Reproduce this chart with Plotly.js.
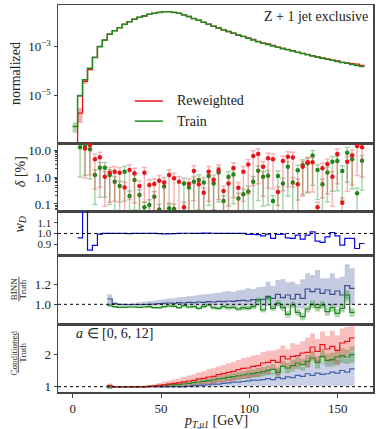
<!DOCTYPE html>
<html><head><meta charset="utf-8">
<script src="https://cdn.plot.ly/plotly-3.0.1.min.js"></script>
<style>html,body{margin:0;padding:0;background:#fff}#chart{width:379px;height:429px}</style>
</head><body><div id="chart"></div>
<script>
// ---------------- data ----------------
const binWidth = 2.8; // GeV, bin k spans [k*w, (k+1)*w]
// top panel, bins 0..58
const histTrain = [5.8e-7, 1.02e-5, 4.5e-5, 1.32e-4, 3.7e-4, 1.0e-3, 1.86e-3, 3.16e-3, 4.4e-3, 5.9e-3,
  8.1e-3, 1.02e-2, 1.29e-2, 1.55e-2, 1.74e-2, 2.04e-2, 2.24e-2, 2.45e-2, 2.63e-2, 2.63e-2,
  2.45e-2, 2.24e-2, 1.95e-2, 1.66e-2, 1.38e-2, 1.17e-2, 9.8e-3, 8.1e-3, 6.8e-3, 5.75e-3,
  4.8e-3, 4.1e-3, 3.47e-3, 2.95e-3, 2.57e-3, 2.19e-3, 1.86e-3, 1.58e-3, 1.38e-3, 1.23e-3,
  1.07e-3, 9.5e-4, 8.3e-4, 7.4e-4, 6.6e-4, 5.9e-4, 5.25e-4, 4.7e-4, 4.2e-4, 3.8e-4,
  3.4e-4, 3.1e-4, 2.8e-4, 2.5e-4, 2.3e-4, 2.1e-4, 1.9e-4, 1.7e-4, 1.55e-4];
const histReweighted = [1e-9, 2.0e-6, 3.9e-5, 1.18e-4, 3.6e-4, 1.03e-3, 1.84e-3, 3.2e-3, 4.45e-3, 5.95e-3,
  8.05e-3, 1.03e-2, 1.3e-2, 1.54e-2, 1.75e-2, 2.03e-2, 2.25e-2, 2.46e-2, 2.62e-2, 2.64e-2,
  2.44e-2, 2.25e-2, 1.96e-2, 1.67e-2, 1.37e-2, 1.18e-2, 9.75e-3, 8.15e-3, 6.78e-3, 5.8e-3,
  4.78e-3, 4.12e-3, 3.5e-3, 2.94e-3, 2.6e-3, 2.25e-3, 1.95e-3, 1.65e-3, 1.4e-3, 1.29e-3,
  1.13e-3, 9.47e-4, 8.6e-4, 7.8e-4, 6.95e-4, 5.87e-4, 5.37e-4, 4.85e-4, 4.35e-4, 3.8e-4,
  3.47e-4, 3.2e-4, 2.83e-4, 2.67e-4, 2.3e-4, 2.18e-4, 2.02e-4, 1.95e-4, 1.74e-4];
const relErrTrain = [0.45, 0.12, 0.06, 0.04, 0.03, 0.025];
const relErrReweighted = [0, 0.6, 0.2, 0.06, 0.04, 0.03];
const relErrDefault = 0.02;

// delta panel, bins 1..58 (percent)
const deltaReweighted = [null, 11.5, 15.3, 4.5, 5.35, 1.03, 1.45, 1.58, 1.45, 0.41,
  1.82, 1.37, 0.46, 1.45, 0.51, 0.55, 0.73, 0.62, 1.19, 0.89,
  0.67, 0.075, 0.55, 1.67, 0.54, 0.26, 1.58, 0.77, 1.82, 0.30,
  0.58, 2.16, 0.40, 1.58, 2.9, 6.0, 7.1, 2.4, 4.9, 4.5,
  0.28, 3.9, 5.6, 5.3, 0.54, 2.4, 3.5, 3.5, 0.075, 2.1,
  3.0, 1.03, 7.1, 0.11, 3.7, 6.3, 14.2, 12.6];
const deltaTrain = [12.6, 14.5, 10.6, 1.19, 2.22, 2.22, 1.19, 0.67, 0.46, 1.58,
  0.198, 0.77, 0.215, 0.075, 0.092, 0.187, 0.063, 0.44, 0.069, 0.065,
  null, 0.58, 0.41, 0.67, 0.77, 0.62, 1.09, 0.58, 1.48, 0.13,
  1.03, 1.25, 0.16, 0.23, 0.29, 0.67, 1.7, 1.03, 1.12, 0.13,
  1.09, 0.58, 2.4, 0.62, 1.77, 2.8, 3.2, 6.2, 1.82, 0.54,
  1.48, 3.7, 3.9, 1.67, 8.0, 4.5, 0.25, 4.0];

// w_D panel, bins 1..58
const wD = [0.96, 1.3, 0.845, 0.89, 0.994, 1.0, 1.0, 1.0, 1.002, 1.0,
  0.998, 1.0, 1.0, 1.002, 1.0, 1.0, 0.998, 0.997, 0.997, 0.998,
  1.0, 1.002, 1.002, 1.0, 1.0, 1.003, 1.004, 1.002, 1.0, 1.0,
  1.0, 1.0, 1.0, 1.0, 0.991, 0.991, 0.99, 0.978, 0.994, 0.954,
  0.991, 0.994, 0.960, 0.954, 0.985, 0.947, 0.985, 1.015, 0.929, 0.917,
  0.969, 1.009, 0.978, 0.892, 0.954, 0.954, 0.861, 0.907];

// BINN / Truth panel, bins 7..56
const binnMean = [1.053, 1.006, 0.998, 0.998, 0.998, 0.998, 0.998, 0.998, 1.000, 1.003,
  1.006, 1.010, 1.013, 1.010, 1.016, 1.013, 1.020, 1.016, 1.023, 1.020,
  1.026, 1.023, 1.030, 1.026, 1.033, 1.030, 1.036, 1.040, 1.033, 1.046,
  1.043, 1.050, 1.076, 1.060, 1.100, 1.066, 1.093, 1.053, 1.100, 1.060,
  1.153, 1.126, 1.153, 1.110, 1.143, 1.100, 1.133, 1.093, 1.186, 1.160];
const binnUpper = [1.10, 1.026, 1.010, 1.010, 1.006, 1.013, 1.020, 1.026, 1.033, 1.036,
  1.043, 1.050, 1.060, 1.060, 1.070, 1.073, 1.080, 1.086, 1.093, 1.100,
  1.103, 1.110, 1.116, 1.126, 1.133, 1.126, 1.140, 1.146, 1.160, 1.153,
  1.170, 1.176, 1.226, 1.186, 1.243, 1.253, 1.220, 1.226, 1.200, 1.250,
  1.310, 1.293, 1.343, 1.260, 1.260, 1.310, 1.260, 1.276, 1.400, 1.360];
const binnLower = [0.976, 0.99, 0.985, 0.983, 0.983, 0.983, 0.983, 0.985, 0.985, 0.986,
  0.986, 0.988, 0.988, 0.986, 0.988, 0.986, 0.988, 0.986, 0.985, 0.986,
  0.985, 0.983, 0.985, 0.983, 0.983, 0.985, 0.980, 0.983, 0.980, 0.985,
  0.98, 0.975, 0.985, 0.975, 0.98, 0.97, 0.965, 0.975, 0.96, 0.955,
  1.0, 0.985, 0.99, 0.975, 0.97, 0.98, 0.965, 0.975, 1.02, 0.99];
const binnTrain = [0.993, 0.976, 0.970, 0.970, 0.973, 0.973, 0.970, 0.973, 0.976, 0.966,
  0.966, 0.976, 0.983, 0.980, 0.966, 0.986, 0.973, 0.976, 0.960, 0.976,
  0.993, 0.966, 0.960, 0.976, 0.966, 0.970, 0.953, 0.966, 0.960, 0.976,
  1.043, 0.943, 1.066, 0.960, 1.010, 0.966, 0.900, 0.993, 0.920, 0.876,
  0.953, 1.000, 0.966, 0.993, 0.926, 0.966, 0.910, 0.960, 1.093, 0.920];
const binnTrainErr = [0.015, 0.01, 0.01, 0.01, 0.01, 0.01, 0.01, 0.01, 0.012, 0.012,
  0.012, 0.012, 0.012, 0.013, 0.013, 0.014, 0.014, 0.015, 0.015, 0.016,
  0.016, 0.017, 0.018, 0.018, 0.02, 0.02, 0.02, 0.022, 0.022, 0.024,
  0.025, 0.025, 0.028, 0.028, 0.03, 0.03, 0.032, 0.032, 0.034, 0.035,
  0.036, 0.036, 0.038, 0.038, 0.04, 0.04, 0.042, 0.042, 0.045, 0.045];

// Conditioned / Truth panel, bins 7..56, a = 0, 6, 12
const condA0 = [1.03, 0.99, 0.99, 0.99, 0.99, 0.995, 1.0, 1.0, 1.01, 1.02,
  1.04, 1.06, 1.08, 1.10, 1.12, 1.15, 1.176, 1.196, 1.238, 1.258,
  1.299, 1.320, 1.371, 1.402, 1.443, 1.474, 1.526, 1.567, 1.577, 1.629,
  1.649, 1.731, 1.752, 1.814, 1.752, 1.937, 1.855, 1.937, 1.958, 2.040,
  2.061, 2.225, 2.092, 2.297, 2.164, 2.246, 2.122, 2.349, 2.400, 2.503];
const condA0Err = [0.07, 0.02, 0.02, 0.02, 0.02, 0.02, 0.03, 0.03, 0.04, 0.05,
  0.07, 0.09, 0.10, 0.12, 0.13, 0.15, 0.17, 0.19, 0.2, 0.22,
  0.24, 0.25, 0.26, 0.27, 0.28, 0.29, 0.3, 0.32, 0.33, 0.33,
  0.34, 0.34, 0.36, 0.3, 0.4, 0.33, 0.3, 0.4, 0.34, 0.36,
  0.45, 0.42, 0.38, 0.41, 0.41, 0.48, 0.46, 0.45, 0.44, 0.41];
const condA6 = [1.0, 1.0, 1.0, 1.0, 1.0, 1.0, 1.0, 1.0, 1.01, 1.022,
  1.032, 1.042, 1.053, 1.063, 1.073, 1.083, 1.104, 1.124, 1.145, 1.166,
  1.186, 1.207, 1.238, 1.258, 1.289, 1.310, 1.331, 1.361, 1.392, 1.412,
  1.433, 1.464, 1.505, 1.536, 1.443, 1.629, 1.577, 1.649, 1.731, 1.680,
  1.783, 1.886, 1.752, 1.937, 1.814, 1.834, 1.917, 1.958, 1.917, 1.989];
const condA6Err = [0.07, 0.015, 0.015, 0.015, 0.015, 0.015, 0.02, 0.02, 0.025, 0.03,
  0.035, 0.04, 0.045, 0.05, 0.055, 0.06, 0.065, 0.07, 0.075, 0.08,
  0.085, 0.09, 0.095, 0.1, 0.11, 0.11, 0.12, 0.12, 0.13, 0.13,
  0.14, 0.14, 0.15, 0.16, 0.15, 0.17, 0.16, 0.18, 0.19, 0.18,
  0.2, 0.21, 0.19, 0.22, 0.2, 0.21, 0.23, 0.23, 0.22, 0.25];
const condA12 = [0.99, 0.99, 0.99, 0.99, 0.99, 0.99, 0.99, 0.99, 1.0, 1.0,
  1.0, 1.0, 1.0, 1.0, 1.0, 1.0, 1.02, 1.03, 1.04, 1.05,
  1.06, 1.08, 1.08, 1.10, 1.12, 1.14, 1.14, 1.16, 1.18, 1.20,
  1.20, 1.22, 1.25, 1.22, 1.28, 1.25, 1.30, 1.28, 1.35, 1.32,
  1.40, 1.35, 1.42, 1.38, 1.40, 1.45, 1.42, 1.50, 1.45, 1.55];
const condA12Err = [0.07, 0.02, 0.02, 0.02, 0.02, 0.02, 0.02, 0.02, 0.02, 0.025,
  0.03, 0.03, 0.035, 0.04, 0.04, 0.045, 0.05, 0.06, 0.06, 0.07,
  0.08, 0.09, 0.09, 0.1, 0.12, 0.14, 0.13, 0.15, 0.17, 0.19,
  0.18, 0.2, 0.23, 0.2, 0.26, 0.22, 0.28, 0.25, 0.32, 0.29,
  0.37, 0.32, 0.4, 0.36, 0.38, 0.42, 0.4, 0.48, 0.42, 0.52];

const xTickVals = [0, 50, 100, 150];

// ---------------- helpers ----------------
const FONT = 'Liberation Serif, Times New Roman, serif';
const RED = '#e8141a', GREEN = '#1f8a1f', BLUE = '#0a0ae8', NAVY = '#3d4f8f';
function edgesFrom(startBin, n){ const e=[]; for(let i=0;i<=n;i++) e.push((startBin+i)*binWidth); return e; }
function stepVals(v){ return v.concat([v[v.length-1]]); }
function stepTrace(startBin, vals, ax, line, extra){
  return Object.assign({type:'scatter', mode:'lines', x:edgesFrom(startBin, vals.length), y:stepVals(vals),
    xaxis:'x'+ax, yaxis:'y'+ax, line:Object.assign({shape:'hv'}, line), hoverinfo:'skip', showlegend:false}, extra||{});
}
function band(startBin, lo, hi, ax, color){
  return [stepTrace(startBin, lo, ax, {width:0, color:color}),
          stepTrace(startBin, hi, ax, {width:0, color:color}, {fill:'tonexty', fillcolor:color})];
}
function centersFrom(startBin, n){ const c=[]; for(let i=0;i<n;i++) c.push((startBin+i+0.5)*binWidth); return c; }

const traces = [];
// ---- panel 1 ----
const rErr = i => (relErrReweighted[i] !== undefined ? relErrReweighted[i] : relErrDefault);
const tErr = i => (relErrTrain[i] !== undefined ? relErrTrain[i] : relErrDefault);
traces.push(...band(0, histReweighted.map((v,i)=>v*(1-rErr(i))), histReweighted.map((v,i)=>v*(1+rErr(i))), '', 'rgba(232,20,26,0.35)'));
traces.push(...band(0, histTrain.map((v,i)=>v*(1-tErr(i))), histTrain.map((v,i)=>v*(1+tErr(i))), '', 'rgba(31,138,31,0.35)'));
traces.push(stepTrace(0, histReweighted, '', {color:RED, width:1.3}));
traces.push(stepTrace(0, histTrain, '', {color:GREEN, width:1.5}));

// ---- panel 2 (delta) ----
const dx = centersFrom(1, deltaTrain.length);
traces.push({type:'scatter', mode:'markers', x:dx, y:deltaTrain, xaxis:'x2', yaxis:'y2', showlegend:false, hoverinfo:'skip',
  marker:{color:'#1a8a1a', size:4.5},
  error_y:{type:'percent', symmetric:false, value:55, valueminus:92, color:'rgba(40,150,40,0.4)', thickness:1.5, width:2.5}});
traces.push({type:'scatter', mode:'markers', x:dx, y:deltaReweighted, xaxis:'x2', yaxis:'y2', showlegend:false, hoverinfo:'skip',
  marker:{color:RED, size:4.5},
  error_y:{type:'percent', symmetric:false, value:55, valueminus:92, color:'rgba(232,40,40,0.35)', thickness:1.5, width:2.5}});

// ---- panel 3 (wD) ----
traces.push(stepTrace(1, wD, '3', {color:BLUE, width:1.2}));

// ---- panel 4 (BINN) ----
traces.push(...band(7, binnLower, binnUpper, '4', 'rgba(70,90,160,0.32)'));
traces.push(...band(7, binnTrain.map((v,i)=>v-binnTrainErr[i]), binnTrain.map((v,i)=>v+binnTrainErr[i]), '4', 'rgba(40,150,40,0.38)'));
traces.push(stepTrace(7, binnMean, '4', {color:NAVY, width:1.2}));
traces.push(stepTrace(7, binnTrain, '4', {color:GREEN, width:1.2}));

// ---- panel 5 (Conditioned) ----
traces.push(...band(7, condA12.map((v,i)=>v-condA12Err[i]), condA12.map((v,i)=>v+condA12Err[i]), '5', 'rgba(80,100,170,0.3)'));
traces.push(...band(7, condA6.map((v,i)=>v-condA6Err[i]), condA6.map((v,i)=>v+condA6Err[i]), '5', 'rgba(40,140,40,0.35)'));
traces.push(...band(7, condA0.map((v,i)=>v-condA0Err[i]), condA0.map((v,i)=>v+condA0Err[i]), '5', 'rgba(235,40,40,0.3)'));
traces.push(stepTrace(7, condA12, '5', {color:'#4462aa', width:1.2}));
traces.push(stepTrace(7, condA6, '5', {color:'#2a8a2a', width:1.2}));
traces.push(stepTrace(7, condA0, '5', {color:RED, width:1.2}));

// ---------------- layout ----------------
const frame = {showline:true, mirror:true, linecolor:'#444', linewidth:1.5, showgrid:false, zeroline:false};
const xBase = Object.assign({}, frame, {range:[-8.3,170], ticks:'', showticklabels:false});
const yBase = Object.assign({}, frame, {ticks:'outside', ticklen:3, tickcolor:'#444', tickfont:{family:FONT, size:13, color:'#222'}});
const doms = [[0.6434,1],[0.4677,0.6434],[0.3527,0.4677],[0.1757,0.3527],[0,0.1757]];
const layout = {
  width:379, height:429, margin:{l:58, r:6, t:5, b:37}, paper_bgcolor:'#fff', plot_bgcolor:'#fff', showlegend:false,
  font:{family:FONT, color:'#222'},
  xaxis: Object.assign({}, xBase, {anchor:'y'}),
  xaxis2: Object.assign({}, xBase, {anchor:'y2', matches:'x'}),
  xaxis3: Object.assign({}, xBase, {anchor:'y3', matches:'x'}),
  xaxis4: Object.assign({}, xBase, {anchor:'y4', matches:'x'}),
  xaxis5: Object.assign({}, xBase, {anchor:'y5', matches:'x', ticks:'outside', ticklen:4, tickcolor:'#444', showticklabels:true,
    tickmode:'array', tickvals:xTickVals, tickfont:{family:FONT, size:13, color:'#222'}}),
  yaxis: Object.assign({}, yBase, {anchor:'x', domain:doms[0], type:'log', range:[-6.91,-1.31],
    tickmode:'array', tickvals:[1e-5,1e-3], ticktext:['10<sup>−5</sup>','10<sup>−3</sup>']}),
  yaxis2: Object.assign({}, yBase, {anchor:'x2', domain:doms[1], type:'log', range:[-1.26,1.26],
    tickmode:'array', tickvals:[0.1,1,10], ticktext:['0.1','1.0','10.0'],
    minor:{ticks:'outside', ticklen:2, tickcolor:'#444', tickmode:'array',
      tickvals:[0.06,0.07,0.08,0.09,0.2,0.3,0.4,0.5,0.6,0.7,0.8,0.9,2,3,4,5,6,7,8,9]}}),
  yaxis3: Object.assign({}, yBase, {anchor:'x3', domain:doms[2], range:[0.796,1.208],
    tickmode:'array', tickvals:[0.9,1.0,1.1], ticktext:['0.9','1.0','1.1'], tickfont:{family:FONT, size:11, color:'#222'}}),
  yaxis4: Object.assign({}, yBase, {anchor:'x4', domain:doms[3], range:[0.803,1.488],
    tickmode:'array', tickvals:[1.0,1.2], ticktext:['1.0','1.2']}),
  yaxis5: Object.assign({}, yBase, {anchor:'x5', domain:doms[4], range:[0.836,2.935],
    tickmode:'array', tickvals:[1,2], ticktext:['1','2']}),
  shapes: [
    {type:'rect', xref:'paper', yref:'y2', x0:0, x1:1, y0:-1.3, y1:0, fillcolor:'rgba(0,0,0,0.11)', line:{width:0}, layer:'below'},
    {type:'line', xref:'paper', yref:'y2', x0:0, x1:1, y0:0, y1:0, line:{color:'#9a9a9a', width:2, dash:'dot'}, layer:'below'},
    {type:'line', xref:'paper', yref:'y3', x0:0, x1:1, y0:1, y1:1, line:{color:'#000', width:1, dash:'dot'}},
    {type:'line', xref:'paper', yref:'y4', x0:0, x1:1, y0:1, y1:1, line:{color:'#000', width:1, dash:'dot'}},
    {type:'line', xref:'paper', yref:'y5', x0:0, x1:1, y0:1, y1:1, line:{color:'#000', width:1, dash:'dot'}},
    // legend samples
    {type:'line', xref:'paper', yref:'paper', x0:0.244, x1:0.333, y0:0.752, y1:0.752, line:{color:RED, width:1.5}},
    {type:'line', xref:'paper', yref:'paper', x0:0.244, x1:0.333, y0:0.700, y1:0.700, line:{color:GREEN, width:1.5}},
    // fraction bars of ratio labels
    {type:'line', xref:'paper', yref:'paper', x0:-0.124, x1:-0.124, y0:0.234, y1:0.298, line:{color:'#222', width:0.8}},
    {type:'line', xref:'paper', yref:'paper', x0:-0.126, x1:-0.126, y0:0.049, y1:0.153, line:{color:'#222', width:0.8}}
  ],
  annotations: [
    {xref:'paper', yref:'paper', x:0.5, y:-0.077, xanchor:'center', yanchor:'middle', showarrow:false,
      text:'<i>p<sub>T,μ1</sub></i> [GeV]', font:{family:FONT, size:14, color:'#222'}},
    {xref:'paper', yref:'paper', x:0.99, y:0.969, xanchor:'right', yanchor:'middle', showarrow:false,
      text:'Z + 1 jet exclusive', font:{family:FONT, size:14, color:'#222'}},
    {xref:'paper', yref:'paper', x:0.371, y:0.752, xanchor:'left', yanchor:'middle', showarrow:false,
      text:'Reweighted', font:{family:FONT, size:14, color:'#222'}},
    {xref:'paper', yref:'paper', x:0.371, y:0.700, xanchor:'left', yanchor:'middle', showarrow:false,
      text:'Train', font:{family:FONT, size:14, color:'#222'}},
    {xref:'paper', yref:'paper', x:0.05, y:0.150, xanchor:'left', yanchor:'middle', showarrow:false,
      text:'<i>a</i> ∈ [0, 6, 12]', font:{family:FONT, size:14, color:'#222'}},
    {xref:'paper', yref:'paper', x:-0.137, y:0.824, textangle:-90, showarrow:false, xanchor:'center', yanchor:'middle',
      text:'normalized', font:{family:FONT, size:14, color:'#222'}},
    {xref:'paper', yref:'paper', x:-0.117, y:0.5685, textangle:-90, showarrow:false, xanchor:'center', yanchor:'middle',
      text:'<i>δ</i> [%]', font:{family:FONT, size:14, color:'#222'}},
    {xref:'paper', yref:'paper', x:-0.122, y:0.4315, textangle:-90, showarrow:false, xanchor:'center', yanchor:'middle',
      text:'<i>w<sub>D</sub></i>', font:{family:FONT, size:14, color:'#222'}},
    {xref:'paper', yref:'paper', x:-0.139, y:0.266, textangle:-90, showarrow:false, xanchor:'center', yanchor:'middle',
      text:'BINN', font:{family:FONT, size:9, color:'#222'}},
    {xref:'paper', yref:'paper', x:-0.110, y:0.266, textangle:-90, showarrow:false, xanchor:'center', yanchor:'middle',
      text:'Truth', font:{family:FONT, size:9, color:'#222'}},
    {xref:'paper', yref:'paper', x:-0.141, y:0.101, textangle:-90, showarrow:false, xanchor:'center', yanchor:'middle',
      text:'Conditioned', font:{family:FONT, size:9, color:'#222'}},
    {xref:'paper', yref:'paper', x:-0.112, y:0.101, textangle:-90, showarrow:false, xanchor:'center', yanchor:'middle',
      text:'Truth', font:{family:FONT, size:9, color:'#222'}}
  ]
};
Plotly.newPlot('chart', traces, layout, {displayModeBar:false, staticPlot:true});
</script></body></html>
